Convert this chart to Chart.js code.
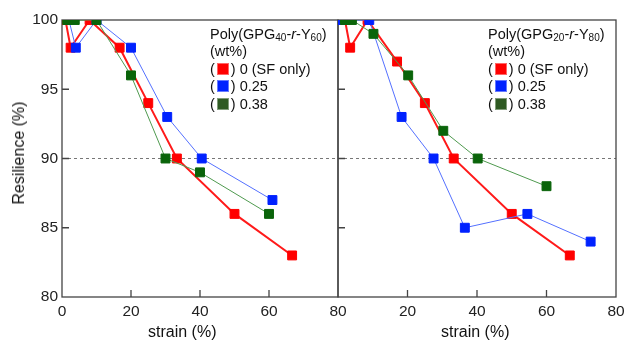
<!DOCTYPE html>
<html>
<head>
<meta charset="utf-8">
<script src="https://cdn.jsdelivr.net/npm/chart.js@4.4.1/dist/chart.umd.min.js"></script>
<style>
  body { margin: 0; background: #fff; font-family: "Liberation Sans", Arial, sans-serif; }
  #wrap { position: relative; width: 625px; height: 340px; overflow: hidden; }
  canvas { position: absolute; top: 0; }
  .leg { position: absolute; font-size: 14.5px; line-height: 17.4px; color: #111; white-space: nowrap; }
  .leg sub { font-size: 10px; vertical-align: -2px; line-height: 0; }
  .box { display: inline-block; width: 10px; height: 10px; vertical-align: -1px; margin: 0 2px; border: 1px solid rgba(255,255,255,0.4); }
  .lbl { position: absolute; font-size: 16px; color: #111; white-space: nowrap; }
</style>
</head>
<body>
<div id="wrap">
  <canvas id="c1" width="360" height="340" style="left:0px"></canvas>
  <canvas id="c2" width="297" height="340" style="left:328px"></canvas>

  <div class="leg" style="left:210px;top:26px">
    <div>Poly(GPG<sub>40</sub>-<i>r</i>-Y<sub>60</sub>)</div>
    <div>(wt%)</div>
    <div>(<span class="box" style="background:#ff0000"></span>) 0 (SF only)</div>
    <div>(<span class="box" style="background:#0022ff"></span>) 0.25</div>
    <div>(<span class="box" style="background:#2e5a22"></span>) 0.38</div>
  </div>
  <div class="leg" style="left:488px;top:26px">
    <div>Poly(GPG<sub>20</sub>-<i>r</i>-Y<sub>80</sub>)</div>
    <div>(wt%)</div>
    <div>(<span class="box" style="background:#ff0000"></span>) 0 (SF only)</div>
    <div>(<span class="box" style="background:#0022ff"></span>) 0.25</div>
    <div>(<span class="box" style="background:#2e5a22"></span>) 0.38</div>
  </div>

  <div class="lbl" style="left:148px;top:323px">strain (%)</div>
  <div class="lbl" style="left:441px;top:323px">strain (%)</div>
  <div class="lbl" style="left:19px;top:153px;transform:translate(-50%,-50%) rotate(-90deg)">Resilience (%)</div>
</div>

<script>
// left panel: Poly(GPG40-r-Y60)
var leftRedX = [1, 2.5, 8, 16.7, 25, 33.3, 50, 66.7];
var leftRedY = [100, 98, 100, 98, 94, 90, 86, 83];
var leftBlueX = [2, 4, 10, 20, 30.5, 40.5, 61];
var leftBlueY = [100, 98, 100, 98, 93, 90, 87];
var leftGreenX = [1.5, 3.7, 10, 20, 30, 40, 60];
var leftGreenY = [100, 100, 100, 96, 90, 89, 86];

// right panel: Poly(GPG20-r-Y80)
var rightRedX = [2, 3.5, 8.5, 17, 25, 33.3, 50, 66.7];
var rightRedY = [100, 98, 100, 97, 94, 90, 86, 83];
var rightBlueX = [1, 9, 18.3, 27.5, 36.5, 54.5, 72.7];
var rightBlueY = [100, 100, 93, 90, 85, 86, 84];
var rightGreenX = [2, 4, 10.2, 20.2, 30.3, 40.2, 60];
var rightGreenY = [100, 100, 99, 96, 92, 90, 88];

var xTicks = [0, 20, 40, 60, 80];
var yTicks = [80, 85, 90, 95, 100];
var refLine = 90;

const pts = (xs, ys) => xs.map((x, i) => ({ x: x, y: ys[i] }));

const series = (xs, ys, line, mark, width) => ({
  data: pts(xs, ys),
  borderColor: line,
  borderWidth: width,
  backgroundColor: mark,
  pointBackgroundColor: mark,
  pointBorderColor: mark,
  pointBorderWidth: 1,
  pointStyle: 'rect',
  pointRadius: 6.3,
  pointHoverRadius: 6.3,
  tension: 0
});

const framePlugin = {
  id: 'frame',
  beforeDatasetsDraw(chart) {
    const { ctx, chartArea: a, scales } = chart;
    const y90 = scales.y.getPixelForValue(refLine);
    ctx.save();
    ctx.strokeStyle = '#777';
    ctx.lineWidth = 1;
    ctx.setLineDash([3, 3]);
    ctx.beginPath();
    ctx.moveTo(a.left, y90);
    ctx.lineTo(a.right, y90);
    ctx.stroke();
    ctx.setLineDash([]);
    ctx.strokeStyle = '#444';
    ctx.lineWidth = 1.3;
    ctx.strokeRect(a.left, a.top, a.right - a.left, a.bottom - a.top);
    ctx.beginPath();
    xTicks.slice(1, -1).forEach(v => {
      const px = scales.x.getPixelForValue(v);
      ctx.moveTo(px, a.bottom);
      ctx.lineTo(px, a.bottom - 7);
    });
    yTicks.slice(1, -1).forEach(v => {
      const py = scales.y.getPixelForValue(v);
      ctx.moveTo(a.left, py);
      ctx.lineTo(a.left + 7, py);
    });
    ctx.stroke();
    ctx.restore();
  }
};

const tickFont = { family: '"Liberation Sans", Arial, sans-serif', size: 15.5 };

const makeChart = (id, data, padding, showY, hideZero) => new Chart(document.getElementById(id), {
  type: 'line',
  data: { datasets: data },
  plugins: [framePlugin],
  options: {
    responsive: false,
    animation: false,
    layout: { padding: padding },
    plugins: { legend: { display: false }, tooltip: { enabled: false } },
    scales: {
      x: {
        type: 'linear', min: 0, max: 80,
        afterBuildTicks: s => { s.ticks = xTicks.map(v => ({ value: v })); },
        ticks: {
          font: tickFont, color: '#222', padding: 5, maxRotation: 0,
          callback: v => (hideZero && v === 0) ? '' : v
        },
        grid: { display: false, drawTicks: false },
        border: { display: false },
        afterFit: s => { s.height = 43; s.paddingLeft = 0; s.paddingRight = 0; }
      },
      y: {
        display: showY,
        min: 80, max: 100,
        afterBuildTicks: s => { s.ticks = yTicks.map(v => ({ value: v })); },
        ticks: { font: tickFont, color: '#222', padding: 4 },
        grid: { display: false, drawTicks: false },
        border: { display: false },
        afterFit: s => { s.width = showY ? 62 : 0; s.paddingTop = 0; s.paddingBottom = 0; }
      }
    }
  }
});

makeChart('c1', [
  series(leftGreenX, leftGreenY, '#4f9a4f', '#0a640a', 1),
  series(leftBlueX, leftBlueY, '#5470ff', '#0022ff', 1),
  series(leftRedX, leftRedY, '#ff1a1a', '#ff0000', 2)
], { left: 0, top: 20, right: 22, bottom: 0 }, true, false);

makeChart('c2', [
  series(rightGreenX, rightGreenY, '#4f9a4f', '#0a640a', 1),
  series(rightBlueX, rightBlueY, '#5470ff', '#0022ff', 1),
  series(rightRedX, rightRedY, '#ff1a1a', '#ff0000', 2)
], { left: 10, top: 20, right: 9, bottom: 0 }, false, true);
</script>
</body>
</html>
